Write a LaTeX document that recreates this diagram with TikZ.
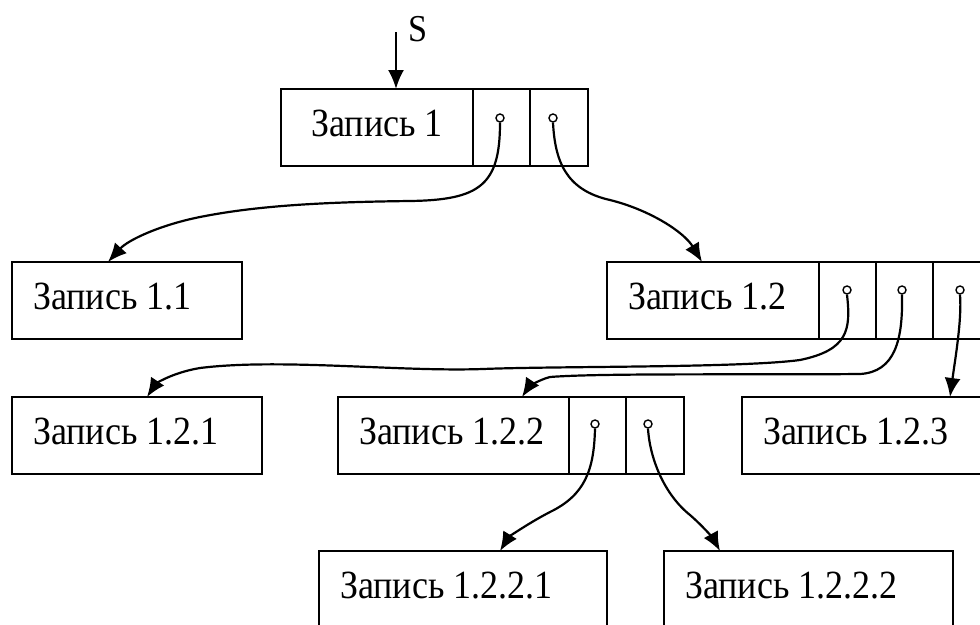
\documentclass[tikz,border=0pt]{standalone}
\usepackage{fontspec}
\setmainfont{Liberation Serif}[FakeStretch=0.9]
\usetikzlibrary{arrows.meta}
\newcommand\rectext[3][l]{\makebox[#2][#1]{#3}}
\begin{document}
\begin{tikzpicture}[x=1pt,y=-1pt,
  rec/.style={draw, line width=2pt, outer sep=0pt, anchor=north west, minimum height=77pt,
    inner xsep=21pt, inner ysep=0pt, text height=28pt, text depth=10pt,
    font=\fontsize{40}{46}\selectfont},
  cell/.style={draw, line width=2pt, outer sep=0pt, anchor=north west, minimum height=77pt,
    minimum width=57pt, inner sep=0pt},
  ptr/.style={circle, draw, line width=1.4pt, minimum size=8pt, inner sep=0pt},
  link/.style={line width=2.2pt, -{Latex[length=19pt,width=16pt]}},
]
\useasboundingbox (0,0) rectangle (980,624);

% root record with two pointer fields
\node[rec] (r1) at (281,89) {\rectext[c]{150pt}{Запись 1}};
\node[cell] (c11) at (r1.north east) {};
\node[cell, minimum width=58pt] (c12) at (c11.north east) {};
\node[ptr] (p11) at (500,118) {};
\node[ptr] (p12) at (553,118) {};

% second level
\node[rec] (r11) at (12,262) {\rectext{188pt}{Запись 1.1}};
\node[rec] (r12) at (607,262) {\rectext{170pt}{Запись 1.2}};
\node[cell] (c121) at (r12.north east) {};
\node[cell] (c122) at (c121.north east) {};
\node[cell] (c123) at (c122.north east) {};
\node[ptr] (p121) at (847,290) {};
\node[ptr] (p122) at (902,290) {};
\node[ptr] (p123) at (960,290) {};

% third level
\node[rec] (r121) at (12,397) {\rectext{208pt}{Запись 1.2.1}};
\node[rec] (r122) at (338,397) {\rectext{189pt}{Запись 1.2.2}};
\node[cell] (c1221) at (r122.north east) {};
\node[cell, minimum width=58pt] (c1222) at (c1221.north east) {};
\node[ptr] (p1221) at (595,424) {};
\node[ptr] (p1222) at (648,424) {};
\node[rec] (r123) at (742,397) {\rectext{206pt}{Запись 1.2.3}};

% fourth level
\node[rec] (r1221) at (319,551) {\rectext{246pt}{Запись 1.2.2.1}};
\node[rec] (r1222) at (664,551) {\rectext{247pt}{Запись 1.2.2.2}};

% entry pointer S
\coordinate (sin) at (396,32);
\node[anchor=base west, font=\fontsize{38}{44}\selectfont, inner sep=0pt] (slabel) at (408,41) {S};
\draw[line width=2.2pt, -{Latex[length=19pt,width=16pt]}] (sin) -- ([xshift=115pt]r1.north west);

% links
\draw[link] (p11.south) .. controls (500,185) and (480,200) .. (410,201)
  .. controls (330,202) and (260,205) .. (200,217)
  .. controls (160,225) and (128,240) .. ([xshift=96pt]r11.north west);
\draw[link] (p12.south) .. controls (555,160) and (565,190) .. (610,200)
  .. controls (650,210) and (684,232) .. ([xshift=95pt]r12.north west);
\draw[link] (p121.south) .. controls (851,330) and (848,350) .. (800,360)
  .. controls (740,368) and (560,366) .. (483,369)
  .. controls (400,372) and (280,358) .. (200,368)
  .. controls (170,373) and (155,385) .. ([xshift=135pt]r121.north west);
\draw[link] (p122.south) .. controls (903,340) and (895,372) .. (860,374)
  .. controls (750,375) and (600,373) .. (550,377)
  .. controls (538,380) and (528,388) .. ([xshift=184pt]r122.north west);
\draw[link] (p123.south) .. controls (962,320) and (955,360) .. ([xshift=208pt]r123.north west);
\draw[link] (p1221.south) .. controls (594,470) and (585,495) .. (550,512)
  .. controls (525,525) and (508,538) .. ([xshift=181pt]r1221.north west);
\draw[link] (p1222.south) .. controls (650,460) and (665,495) .. (690,515)
  .. controls (705,528) and (714,540) .. ([xshift=56pt]r1222.north west);
\end{tikzpicture}
\end{document}
